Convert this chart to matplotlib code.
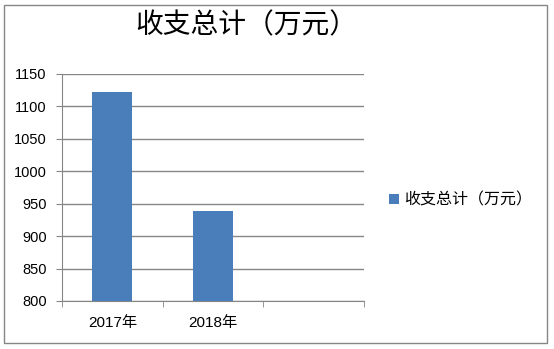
import numpy as np
import matplotlib
matplotlib.use('Agg')
import matplotlib.pyplot as plt
from matplotlib.patches import Rectangle

plt.rcParams['font.family'] = ['Liberation Sans', 'Noto Sans CJK SC', 'DejaVu Sans']

# data
categories = ['2017年', '2018年', '']
values = [1122, 939, np.nan]
series_name = '收支总计（万元）'
title = '收支总计（万元）'
yticks = [800, 850, 900, 950, 1000, 1050, 1100, 1150]

W, H = 554, 349
fig = plt.figure(figsize=(W / 100, H / 100), dpi=100)
ax = fig.add_axes([62 / W, 1 - 301 / H, (364 - 62) / W, (301 - 74) / H])

x = np.arange(len(categories))
ax.bar(x, values, width=0.4, color='#4a7ebb', label=series_name, zorder=3)

ax.set_xlim(-0.5, len(categories) - 0.5)
ax.set_ylim(800, 1150)
ax.set_yticks(yticks)
ax.set_xticks(x)
ax.set_xticklabels(categories, fontsize=11, family=['Liberation Sans', 'Noto Sans CJK SC'])
ax.set_xticks(np.arange(len(categories) + 1) - 0.5, minor=True)
ax.tick_params(axis='x', which='major', length=0, pad=11)
ax.tick_params(axis='x', which='minor', length=4, color='#868686', direction='out')
ax.tick_params(axis='y', length=4, color='#868686', labelsize=10.5, pad=7)

ax.grid(axis='y', color='#868686', linewidth=1, zorder=0)
for s in ['top', 'right']:
    ax.spines[s].set_visible(False)
for s in ['left', 'bottom']:
    ax.spines[s].set_color('#868686')

fig.text(246 / W, 1 - 25 / H, title, ha='center', va='center', fontsize=20,
         family=['Noto Sans CJK SC'])

leg = fig.legend(loc='center left', bbox_to_anchor=(375 / W, 1 - 200 / H), frameon=False,
                 prop={'family': ['Noto Sans CJK SC'], 'size': 11.5},
                 handlelength=0.6, handleheight=0.6, handletextpad=0.3)

fig.patches.append(Rectangle((4 / W, 1 - 343 / H), (547 - 4) / W, (343 - 5) / H,
                             transform=fig.transFigure, fill=False,
                             edgecolor='#868686', linewidth=1))

fig.savefig('out.png', dpi=100)
